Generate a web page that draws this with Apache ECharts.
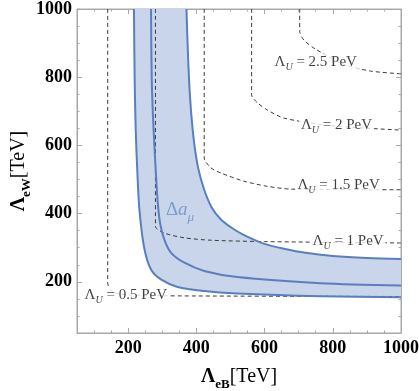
<!DOCTYPE html>
<html><head><meta charset="utf-8">
<script src="https://cdn.jsdelivr.net/npm/echarts@6/dist/echarts.min.js"></script>
<style>html,body{margin:0;padding:0;background:#fff}#c{width:419px;height:391px}</style>
</head><body><div id="c"></div>
<script>
const xTicks = [200, 400, 600, 800, 1000];
const yTicks = [200, 400, 600, 800, 1000];
const minorTicks = [50, 100, 150, 250, 300, 350, 450, 500, 550, 650, 700, 750, 850, 900, 950];

// Delta a_mu band boundaries and central curve [Lambda_eB, Lambda_eW] in TeV
const lowerCurve = [[217,1000],[219,800],[222,650],[227,520],[233,412],[247,300],[267,236],[296,207],[345,185],[423,173],[520,166],[764,158],[1000,155]];
const middleCurve = [[267,1000],[269,800],[273,680],[279,560],[287,430],[294,370],[306,324],[326,285],[365,256],[423,232],[520,214],[764,196],[1000,189]];
const upperCurve = [[371,1000],[376,850],[382,733],[392,620],[405,535],[423,470],[445,418],[470,385],[501,360],[540,337],[598,312],[657,297],[720,285],[800,276],[900,270],[1000,267]];

// Lambda_U contours (dashed)
const contour05 = [[140,1000],[140,197],[146,180],[160,168],[200,162],[311,159],[1000,157]];
const contour1 = [[280,1000],[280,363],[306,343],[365,329],[443,322],[600,318],[1000,314]];
const contour15 = [[423,1000],[423,563],[443,534],[472,519],[540,495],[608,480],[676,472],[1000,470]];
const contour2 = [[562,1000],[562,748],[579,725],[608,704],[657,680],[793,658],[1000,645]];
const contour25 = [[703,1000],[703,935],[715,909],[750,882],[832,838],[911,818],[1000,810]];

const contourLabelText = ['0.5', '1', '1.5', '2', '2.5'];
const contourLabelX = [193, 845, 817, 811, 750];
const contourLabelY = [158, 316, 481, 657, 841];
const bandLabelPos = [352, 404];

const SERIF = 'Liberation Serif';
const BLUE = '#5a7fbd';
const FILL = '#c9d5ea';
const GRAY = '#a8a8a8';

function axisCommon(pos, major, isX) {
  return {
    type: 'value', min: 50, max: 1000, position: pos,
    axisLine: { show: major, lineStyle: { color: GRAY, width: 1 } },
    axisTick: { show: true, inside: true, length: major ? 5 : 2.5, customValues: major ? (isX ? xTicks : yTicks) : minorTicks, lineStyle: { color: GRAY } },
    axisLabel: { show: false },
    splitLine: { show: false }
  };
}

const nameRich = {
  L: { fontFamily: SERIF, fontWeight: 'bold', fontSize: 20, color: '#000', verticalAlign: 'bottom', padding: [0, 0, 4, 0] },
  s: { fontFamily: SERIF, fontWeight: 'bold', fontSize: 13, color: '#000', verticalAlign: 'bottom' },
  r: { fontFamily: SERIF, fontSize: 20, color: '#000', verticalAlign: 'bottom', padding: [0, 0, 4, 0] }
};

const xMain = axisCommon('bottom', true, true);
xMain.axisLabel = { show: true, customValues: xTicks, formatter: v => String(v), margin: 6, fontFamily: SERIF, fontWeight: 'bold', fontSize: 18, color: '#000' };
xMain.name = '{L|Λ}{s|eB}{r|[TeV]}';
xMain.nameLocation = 'middle';
xMain.nameGap = 34;
xMain.nameMoveOverlap = false;
xMain.nameTextStyle = { rich: nameRich };

const yMain = axisCommon('left', true, false);
yMain.axisLabel = { show: true, customValues: yTicks, formatter: v => String(v), margin: 5, fontFamily: SERIF, fontWeight: 'bold', fontSize: 18, color: '#000' };
yMain.name = '{L|Λ}{s|eW}{r|[TeV]}';
yMain.nameLocation = 'middle';
yMain.nameRotate = 90;
yMain.nameGap = 44;
yMain.nameMoveOverlap = false;
yMain.nameTextStyle = { rich: nameRich };

const xAxes = [xMain, axisCommon('bottom', false, true), axisCommon('top', true, true), axisCommon('top', false, true)];
const yAxes = [yMain, axisCommon('left', false, false), axisCommon('right', true, false), axisCommon('right', false, false)];

function bandPolygon(api) {
  const pts = [];
  pts.push(api.coord([216, 1300]));
  lowerCurve.forEach(p => pts.push(api.coord(p)));
  pts.push(api.coord([1300, 152]));
  pts.push(api.coord([1300, 265]));
  upperCurve.slice().reverse().forEach(p => pts.push(api.coord(p)));
  pts.push(api.coord([366, 1300]));
  return pts;
}

const dashStyle = { color: '#3a3a3a', width: 1, type: [4, 3] };
function contourSeries(data) {
  return { type: 'line', data: data, smooth: 0.25, symbol: 'none', lineStyle: dashStyle, z: 3, silent: true, clip: true };
}

const labelData = contourLabelText.map((t, i) => ({ value: [contourLabelX[i], contourLabelY[i]], name: t }));

const option = {
  animation: false,
  backgroundColor: '#fff',
  grid: { left: 77, right: 18, top: 9, bottom: 58, show: true, borderColor: GRAY, borderWidth: 1, outerBoundsMode: 'none' },
  xAxis: xAxes,
  yAxis: yAxes,
  series: [
    {
      type: 'custom', clip: true, z: 1, silent: true,
      data: [[0, 0]],
      renderItem: function (params, api) {
        return { type: 'polygon', shape: { points: bandPolygon(api), smooth: 0.3 }, style: { fill: FILL, stroke: null } };
      }
    },
    contourSeries(contour05),
    contourSeries(contour1),
    contourSeries(contour15),
    contourSeries(contour2),
    contourSeries(contour25),
    {
      type: 'custom', clip: true, z: 4, silent: true,
      data: [[0, 0]],
      renderItem: function (params, api) {
        const mk = arr => ({ type: 'polyline', shape: { points: arr.map(p => api.coord(p)), smooth: 0.3 }, style: { stroke: BLUE, lineWidth: 2, fill: null } });
        return { type: 'group', children: [mk(lowerCurve), mk(middleCurve), mk(upperCurve)] };
      }
    },
    {
      type: 'scatter', symbolSize: 0, z: 5, silent: true,
      data: labelData,
      label: {
        show: true, position: 'inside',
        formatter: p => '{a|Λ}{u|U}{b| = ' + p.name + ' PeV}',
        backgroundColor: '#fff', padding: [1, 2, 0, 2],
        rich: {
          a: { fontFamily: SERIF, fontSize: 15, color: '#111', verticalAlign: 'bottom', padding: [0, 0, 3, 0] },
          u: { fontFamily: SERIF, fontSize: 10, fontStyle: 'italic', color: '#111', verticalAlign: 'bottom' },
          b: { fontFamily: SERIF, fontSize: 15, color: '#111', verticalAlign: 'bottom', padding: [0, 0, 3, 0] }
        }
      }
    },
    {
      type: 'scatter', symbolSize: 0, z: 5, silent: true,
      data: [bandLabelPos],
      label: {
        show: true, position: 'inside',
        formatter: '{d|Δ}{a|a}{m|μ}',
        rich: {
          d: { fontFamily: SERIF, fontSize: 19, color: '#6a8cc6', verticalAlign: 'bottom', padding: [0, 0, 4, 0] },
          a: { fontFamily: SERIF, fontSize: 19, fontStyle: 'italic', color: '#6a8cc6', verticalAlign: 'bottom', padding: [0, 0, 4, 0] },
          m: { fontFamily: SERIF, fontSize: 13, fontStyle: 'italic', color: '#6a8cc6', verticalAlign: 'bottom' }
        }
      }
    }
  ]
};

const chart = echarts.init(document.getElementById('c'), null, { renderer: 'canvas' });
chart.setOption(option);
</script>
</body></html>
